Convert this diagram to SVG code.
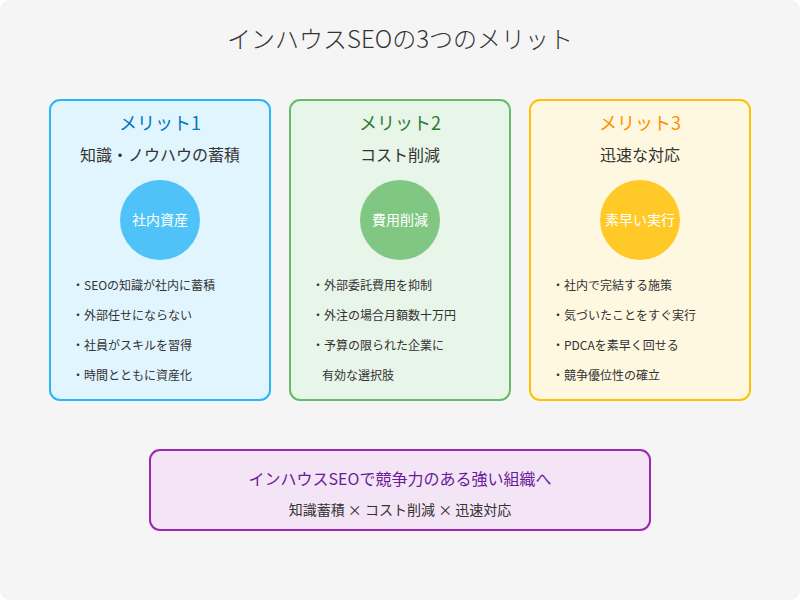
<svg xmlns="http://www.w3.org/2000/svg" width="800" height="600" viewBox="0 0 800 600">
<style>
text{font-family:"Noto Sans CJK JP","Noto Sans",sans-serif;text-anchor:middle}
.h{font-size:18px}
.s{font-size:16px;fill:#333}
.c{font-size:14px;fill:#fff}
.b{font-size:12px;fill:#333;text-anchor:start}
</style>
<rect x="0" y="0" width="800" height="600" rx="10" fill="#f5f5f5"/>
<text x="400" y="48" font-size="24" fill="#333" font-weight="300">インハウスSEOの3つのメリット</text>
<g id="m1">
<rect x="50" y="100" width="220" height="300" rx="10" fill="#e1f5fe" stroke="#29b6f6" stroke-width="2"/>
<text class="h" x="160" y="130" fill="#0277bd">メリット1</text>
<text class="s" x="160" y="161">知識・ノウハウの蓄積</text>
<circle cx="160" cy="220" r="40" fill="#4fc3f7"/>
<text class="c" x="160" y="225">社内資産</text>
<text class="b" x="72" y="290">・SEOの知識が社内に蓄積</text>
<text class="b" x="72" y="320">・外部任せにならない</text>
<text class="b" x="72" y="350">・社員がスキルを習得</text>
<text class="b" x="72" y="380">・時間とともに資産化</text>
</g>
<g id="m2">
<rect x="290" y="100" width="220" height="300" rx="10" fill="#e8f5e9" stroke="#66bb6a" stroke-width="2"/>
<text class="h" x="400" y="130" fill="#2e7d32">メリット2</text>
<text class="s" x="400" y="161">コスト削減</text>
<circle cx="400" cy="220" r="40" fill="#81c784"/>
<text class="c" x="400" y="225">費用削減</text>
<text class="b" x="312" y="290">・外部委託費用を抑制</text>
<text class="b" x="312" y="320">・外注の場合月額数十万円</text>
<text class="b" x="312" y="350">・予算の限られた企業に</text>
<text class="b" x="322" y="380">有効な選択肢</text>
</g>
<g id="m3">
<rect x="530" y="100" width="220" height="300" rx="10" fill="#fff8e1" stroke="#ffc107" stroke-width="2"/>
<text class="h" x="640" y="130" fill="#ff8f00">メリット3</text>
<text class="s" x="640" y="161">迅速な対応</text>
<circle cx="640" cy="220" r="40" fill="#ffca28"/>
<text class="c" x="640" y="225">素早い実行</text>
<text class="b" x="552" y="290">・社内で完結する施策</text>
<text class="b" x="552" y="320">・気づいたことをすぐ実行</text>
<text class="b" x="552" y="350">・PDCAを素早く回せる</text>
<text class="b" x="552" y="380">・競争優位性の確立</text>
</g>
<g id="summary">
<rect x="150" y="450" width="500" height="80" rx="10" fill="#f3e5f5" stroke="#9c27b0" stroke-width="2"/>
<text x="400" y="485" font-size="16" fill="#6a1b9a">インハウスSEOで競争力のある強い組織へ</text>
<text x="400" y="515" font-size="14" fill="#333">知識蓄積 × コスト削減 × 迅速対応</text>
</g>
<g id="connectors"/>
</svg>
